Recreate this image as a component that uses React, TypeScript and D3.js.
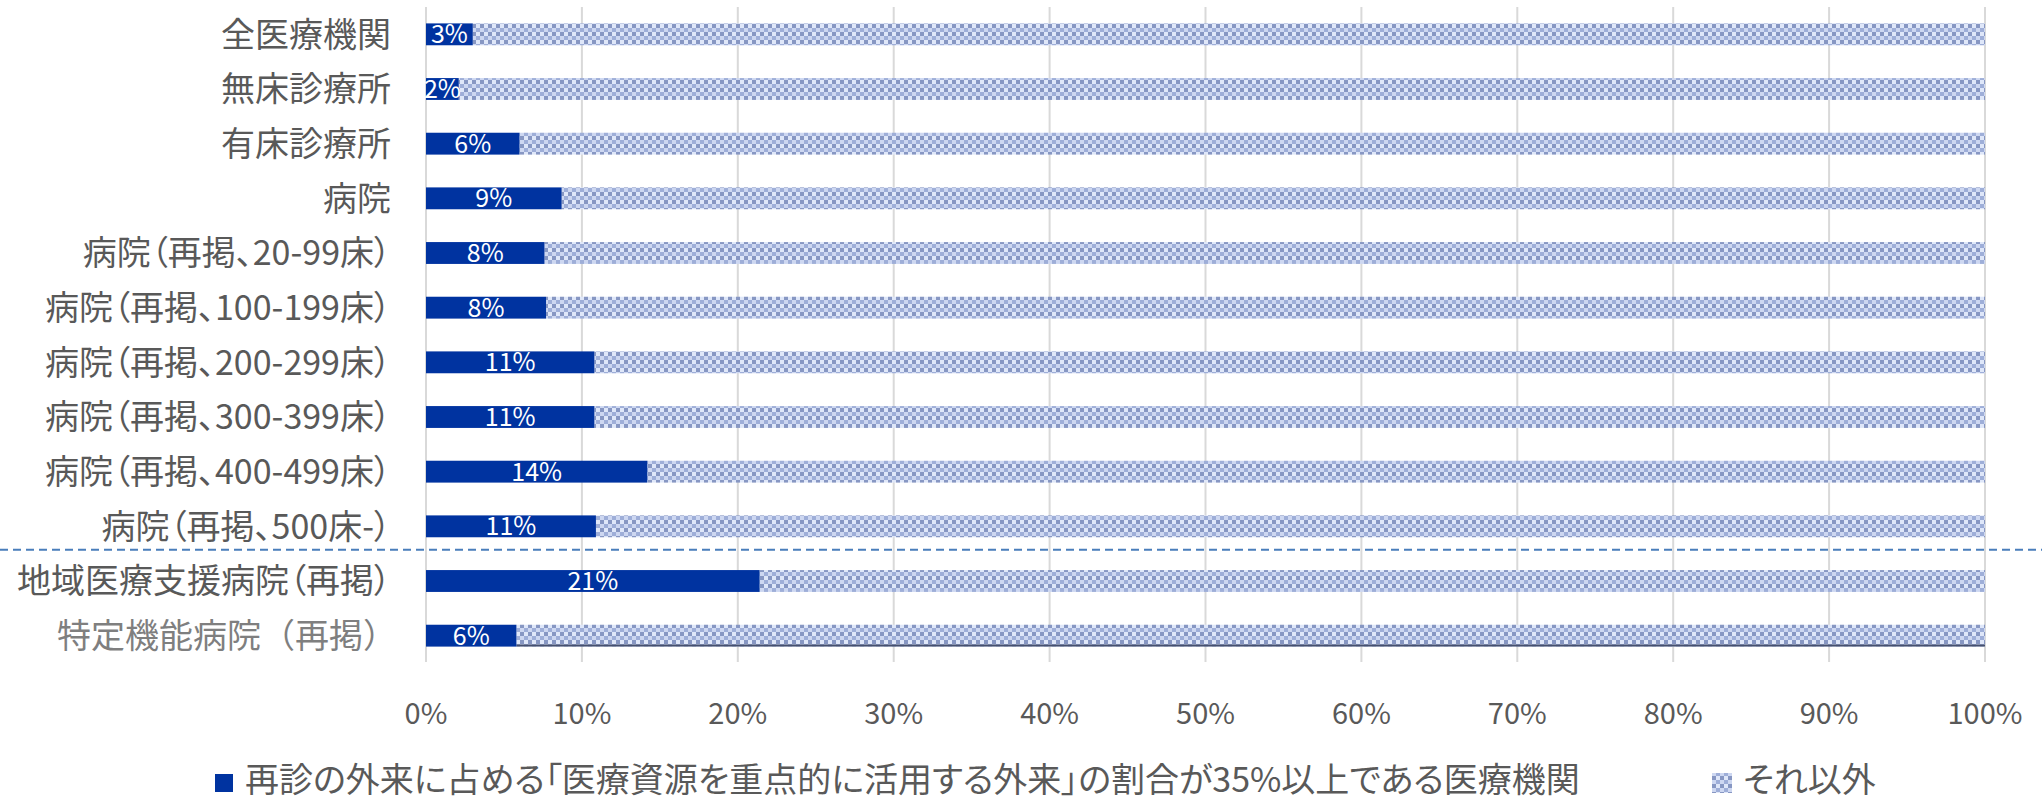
import React from "react";
import * as d3 from "d3";

const categories = [
    "全医療機関",
    "無床診療所",
    "有床診療所",
    "病院",
    "病院（再掲、20-99床）",
    "病院（再掲、100-199床）",
    "病院（再掲、200-299床）",
    "病院（再掲、300-399床）",
    "病院（再掲、400-499床）",
    "病院（再掲、500床-）",
    "地域医療支援病院（再掲）",
    "特定機能病院（再掲）",
];

// 再診の外来に占める「医療資源を重点的に活用する外来」の割合が35%以上である医療機関 (%)
const targetShare = [3.0, 2.1, 6.0, 8.7, 7.6, 7.7, 10.8, 10.8, 14.2, 10.9, 21.4, 5.8];
// それ以外 (%)
const otherShare = [97.0, 97.9, 94.0, 91.3, 92.4, 92.3, 89.2, 89.2, 85.8, 89.1, 78.6, 94.2];

const xTicks = [0, 10, 20, 30, 40, 50, 60, 70, 80, 90, 100];
const legendLabels = [
    "再診の外来に占める「医療資源を重点的に活用する外来」の割合が35%以上である医療機関",
    "それ以外",
];
const separatorAfter = "病院（再掲、500床-）";
const mutedCategory = "特定機能病院（再掲）";

const W = 2042;
const H = 801;
const FONT = "'Noto Sans CJK JP', 'Noto Sans', sans-serif";

const App: React.FC = () => {
    const margin = {top: 7, left: 426, right: 57, bottom: 138};
    const x = d3.scaleLinear().domain([0, 100]).range([margin.left, W - margin.right]);
    const y = d3
        .scalePoint<string>()
        .domain(categories)
        .range([margin.top, H - margin.bottom])
        .padding(0.5);
    const step = y.step();
    const barH = step * 0.4;
    const fmt = (v: number) => `${Math.round(v)}%`;

    const sepIdx = categories.indexOf(separatorAfter);
    const sepY = ((y(categories[sepIdx]) || 0) + (y(categories[sepIdx + 1]) || 0)) / 2 - 4;

    const lastCat = categories[categories.length - 1];

    return (
        <svg
            width={W}
            height={H}
            viewBox={`0 0 ${W} ${H}`}
            style={{position: "absolute", left: 0, top: 0, background: "#fff", fontFamily: FONT}}
        >
            <defs>
                <pattern id="other" width={8} height={8} patternUnits="userSpaceOnUse">
                    <rect x={0} y={0} width={4} height={4} fill="#8797c3"/>
                    <rect x={4} y={0} width={4} height={4} fill="#dfe7f9"/>
                    <rect x={0} y={4} width={4} height={4} fill="#cdd7f1"/>
                    <rect x={4} y={4} width={4} height={4} fill="#9eaed8"/>
                </pattern>
            </defs>

            {/* gridlines */}
            {xTicks.map((t) => (
                <line
                    key={`g${t}`}
                    x1={x(t)}
                    x2={x(t)}
                    y1={margin.top}
                    y2={H - margin.bottom - 1}
                    stroke="#d9d9d9"
                    strokeWidth={2}
                />
            ))}

            {/* bars */}
            {categories.map((c, i) => {
                const cy = y(c) || 0;
                const top = cy - barH / 2;
                const x0 = x(0);
                const x1 = x(targetShare[i]);
                const x2 = x(targetShare[i] + otherShare[i]);
                return (
                    <g key={c}>
                        <rect x={x1} y={top} width={x2 - x1} height={barH} fill="url(#other)"/>
                        {c === lastCat && (
                            <line x1={x1} x2={x2} y1={top + barH - 1} y2={top + barH - 1}
                                  stroke="#46506e" strokeWidth={2}/>
                        )}
                        <rect x={x0} y={top} width={x1 - x0} height={barH} fill="#0033a0"/>
                        <text
                            x={(x0 + x1) / 2}
                            y={cy}
                            dy="0.36em"
                            textAnchor="middle"
                            fill="#fff"
                            fontSize={25}
                        >
                            {fmt(targetShare[i])}
                        </text>
                    </g>
                );
            })}

            {/* category labels */}
            {categories.map((c) => {
                const muted = c === mutedCategory;
                return (
                    <text
                        key={`l${c}`}
                        x={muted ? 397 : 391}
                        y={y(c) || 0}
                        dy="0.36em"
                        textAnchor="end"
                        fontSize={34}
                        fill={muted ? "#7f7f7f" : "#595959"}
                        style={{fontFeatureSettings: muted ? "normal" : "'palt'"}}
                    >
                        {c}
                    </text>
                );
            })}

            {/* separator */}
            <line x1={0} x2={W} y1={sepY} y2={sepY} stroke="#4a7ebb" strokeWidth={2} strokeDasharray="8 5"/>

            {/* x axis ticks */}
            {xTicks.map((t) => (
                <text
                    key={`t${t}`}
                    x={x(t)}
                    y={714}
                    dy="0.36em"
                    textAnchor="middle"
                    fontSize={29}
                    fill="#595959"
                >
                    {`${t}%`}
                </text>
            ))}

            {/* legend */}
            <g style={{fontFeatureSettings: "'palt'"}}>
                <rect x={215} y={774} width={18} height={18} fill="#0033a0"/>
                <text x={245} y={780} dy="0.36em" fontSize={34} fill="#595959">{legendLabels[0]}</text>
                <rect x={1712} y={773} width={20} height={20} fill="url(#other)"/>
                <text x={1743} y={780} dy="0.36em" fontSize={34} fill="#595959">{legendLabels[1]}</text>
            </g>
        </svg>
    );
};

export default App;
